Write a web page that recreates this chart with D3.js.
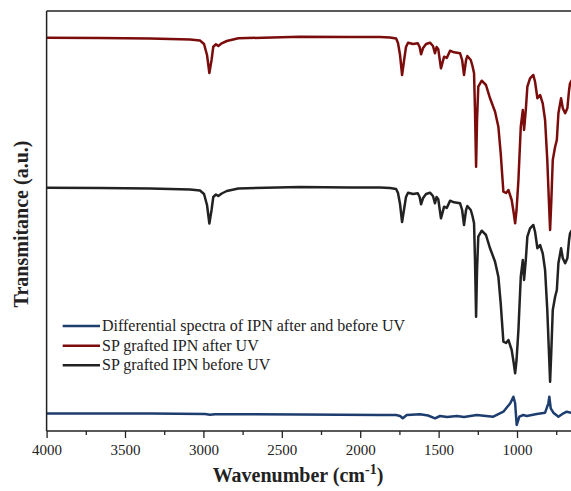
<!DOCTYPE html>
<html><head><meta charset="utf-8">
<script src="https://cdn.jsdelivr.net/npm/d3@7"></script>
<style>
body{margin:0;background:#fff;}
svg{display:block;}
text{font-family:"Liberation Serif","Times New Roman",serif;fill:#222;}
</style></head>
<body>
<svg id="chart" width="571" height="491"></svg>
<script>
// Data: [wavenumber (cm-1), transmittance (arbitrary units, offset spectra)]
const afterUV = [[4000,393.3],[3659,393],[3340,392.5],[3085,391.5],[3022,390.5],[2996,387],[2977,376],[2962,358],[2948,371],[2937,384.3],[2920,386.7],[2905,385],[2883,387.7],[2851,390],[2777,392.7],[2384,394.3],[2065,394],[1874,394],[1810,393.5],[1771,392.5],[1759,388],[1746,376],[1733,356],[1720,371],[1708,384],[1695,388.3],[1663,387],[1633,387.7],[1621,384],[1612,376.7],[1599,383],[1580,387],[1555,388.3],[1536,385],[1523,377.7],[1513,384],[1502,381.7],[1485,362.7],[1465,374.3],[1448,373],[1427,380.3],[1402,378.7],[1363,377.7],[1350,371],[1338,356],[1325,371],[1317,375],[1295,371],[1284,365],[1274,357.7],[1268,321],[1261,264.3],[1255,311],[1247,344.3],[1225,350.3],[1198,346],[1172,332.7],[1140,319.3],[1119,304.3],[1104,277.7],[1087,239.3],[1070,238],[1055,241],[1034,231],[1022,219],[1012,207.7],[1003,221],[991,251],[976,304.3],[963,321],[955,301],[944,321],[934,344.3],[917,352.7],[896,356],[885,349.3],[870,332.7],[853,336],[836,327.7],[821,311],[807,271],[797,231],[789,201],[781,231],[772,271],[757,284.3],[746,291],[736,317.7],[719,332.7],[708,322.7],[693,317.7],[679,322.7],[668,341],[662,347.7],[649,351]];

const beforeUV = [[4000,243.3],[3659,243],[3340,242.5],[3085,241.5],[3022,240.5],[2996,237],[2977,226],[2962,207.5],[2948,221],[2937,234],[2920,236.5],[2905,235],[2883,237.5],[2851,240],[2777,242.5],[2384,244],[2065,243.5],[1874,243.5],[1810,243],[1771,242],[1759,238],[1746,227],[1733,209],[1720,222],[1708,234],[1695,238.3],[1663,237],[1633,237.7],[1621,234],[1612,226.7],[1599,233],[1580,237],[1555,238.3],[1536,235],[1523,227.7],[1513,234],[1502,231.7],[1485,212.7],[1465,224.3],[1448,223],[1427,230.3],[1402,228.7],[1363,227.7],[1350,221],[1338,206],[1325,221],[1317,225],[1295,221],[1284,215],[1274,207.7],[1268,171],[1261,114.3],[1255,161],[1247,194.3],[1225,200.3],[1198,196],[1172,182.7],[1140,169.3],[1119,154.3],[1104,127.7],[1087,89.3],[1070,88],[1055,91],[1034,81],[1022,69],[1012,57.7],[1003,71],[991,101],[976,154.3],[963,171],[955,151],[944,171],[934,194.3],[917,202.7],[896,206],[885,199.3],[870,182.7],[853,186],[836,177.7],[821,161],[807,121],[797,81],[789,49.3],[781,81],[772,121],[757,134.3],[746,141],[736,167.7],[719,182.7],[708,172.7],[693,167.7],[679,172.7],[668,191],[662,197.7],[649,201]];

const differential = [[4000,17.5],[3340,17.5],[2990,17],[2958,16.3],[2926,16.8],[2384,16.5],[1874,16],[1771,16],[1746,15],[1729,12.7],[1703,16],[1618,16.7],[1567,15.5],[1523,12.7],[1491,15],[1446,14],[1384,15],[1338,14],[1257,16],[1151,14.3],[1087,19.3],[1043,27.7],[1023,34.3],[1012,27.7],[1002,6],[985,14.3],[960,16],[938,15],[874,17],[821,18.3],[800,27.7],[794,34.3],[785,22.7],[768,18.3],[736,14.3],[704,17.7],[683,19.3],[655,18.3]];

const majorTicks = [4000,3500,3000,2500,2000,1500,1000];
const minorTicks = [3750,3250,2750,2250,1750,1250,750];
const seriesNames = ["Differential spectra of IPN after and before UV","SP grafted IPN after UV","SP grafted IPN before UV"];
const seriesColors = ["#1c3d6e","#7a0c0c","#222222"];
const xTitle = "Wavenumber (cm";
const yTitle = "Transmitance (a.u.)";

const svg = d3.select("#chart");
const pLeft = 46.6, pTop = 11, pBottom = 431, pRight = 571.9;
const x = d3.scaleLinear().domain([4000,650]).range([pLeft,pRight]);
const y = d3.scaleLinear().domain([0,420]).range([pBottom,pTop]);

svg.append("defs").append("clipPath").attr("id","clip")
  .append("rect").attr("x",pLeft).attr("y",pTop).attr("width",600).attr("height",pBottom-pTop);

const line = d3.line().x(d=>x(d[0])).y(d=>y(d[1]));
const g = svg.append("g").attr("clip-path","url(#clip)");
[[differential,0],[afterUV,1],[beforeUV,2]].forEach(([data,i])=>{
  g.append("path").datum(data).attr("d",line)
   .attr("fill","none").attr("stroke",seriesColors[i])
   .attr("stroke-width",2.5).attr("stroke-linejoin","round");
});

// frame
svg.append("line").attr("x1",pLeft).attr("x2",571).attr("y1",pTop).attr("y2",pTop)
  .attr("stroke","#222").attr("stroke-width",1.5);
svg.append("line").attr("x1",pLeft).attr("x2",pLeft).attr("y1",pTop).attr("y2",pBottom)
  .attr("stroke","#222").attr("stroke-width",1.5);

// x axis
const ax = svg.append("g").attr("transform",`translate(0,${pBottom})`)
  .call(d3.axisBottom(x).tickValues(majorTicks).tickSize(7).tickSizeOuter(0).tickFormat(d3.format("d")));
ax.select(".domain").attr("stroke","#222").attr("stroke-width",1.5).attr("d",`M${pLeft},0H571`);
ax.selectAll(".tick line").attr("stroke","#222").attr("stroke-width",1.3);
ax.selectAll(".tick text").attr("font-size",15).attr("font-family","Liberation Serif").attr("fill","#222").attr("dy","0.95em");
const axm = svg.append("g").attr("transform",`translate(0,${pBottom})`)
  .call(d3.axisBottom(x).tickValues(minorTicks).tickSize(4).tickFormat(""));
axm.select(".domain").remove();
axm.selectAll(".tick line").attr("stroke","#222").attr("stroke-width",1.3);

// titles
const xt = svg.append("text").attr("x",298).attr("y",482).attr("text-anchor","middle")
  .attr("font-size",20).attr("font-weight","bold");
xt.append("tspan").text(xTitle);
xt.append("tspan").attr("dy",-8).attr("font-size",14).text("-1");
xt.append("tspan").attr("dy",8).text(")");

svg.append("text").attr("transform","translate(28,224) rotate(-90)").attr("text-anchor","middle")
  .attr("font-size",20).attr("font-weight","bold").text(yTitle);

// legend
const legY = [326,345.7,365.3];
seriesNames.forEach((n,i)=>{
  svg.append("line").attr("x1",62.7).attr("x2",100).attr("y1",legY[i]).attr("y2",legY[i])
    .attr("stroke",seriesColors[i]).attr("stroke-width",2.6);
  svg.append("text").attr("x",102).attr("y",legY[i]+5).attr("font-size",16).text(n);
});
</script>
</body></html>
